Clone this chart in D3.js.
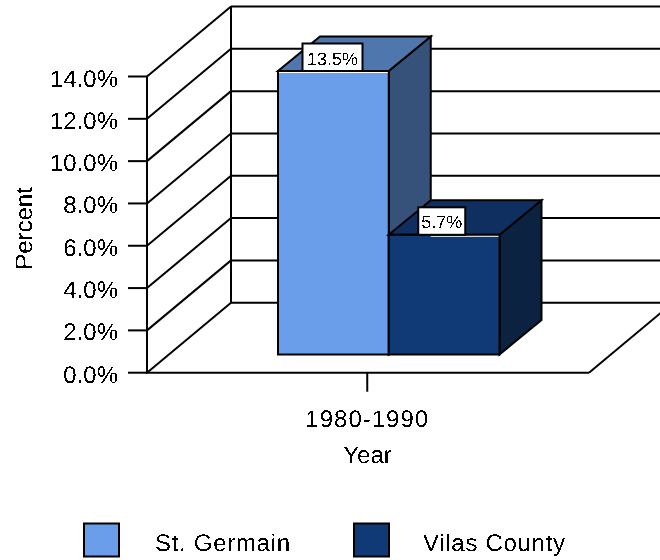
<!DOCTYPE html>
<html>
<head>
<meta charset="utf-8">
<script src="https://cdn.jsdelivr.net/npm/d3@7"></script>
<style>
html,body{margin:0;padding:0;background:#fff}
svg{display:block}
text{font-family:"Liberation Sans",Arial,sans-serif;fill:#000;text-rendering:geometricPrecision}
</style>
</head>
<body>
<svg id="c" width="660" height="560">
  <defs>
    <filter id="hard" x="-5%" y="-10%" width="110%" height="120%" color-interpolation-filters="sRGB">
      <feComponentTransfer><feFuncA type="discrete" tableValues="0 0 1 1"/></feComponentTransfer>
    </filter>
  </defs>
</svg>
<script>
const categories = ["1980-1990"];
const seriesNames = ["St. Germain", "Vilas County"];
const seriesValues = [13.5, 5.7];
const valueLabels = ["13.5%", "5.7%"];
const tickValues = [0, 2, 4, 6, 8, 10, 12, 14];
const tickLabels = ["0.0%", "2.0%", "4.0%", "6.0%", "8.0%", "10.0%", "12.0%", "14.0%"];
const frontColors = ["#6a9eea", "#0f3a75"];
const topColors = ["#4f77ae", "#0e2f5f"];
const sideColors = ["#36527a", "#0b2240"];

const svg = d3.select("#c");
const lw = 2;
const y = d3.scaleLinear().domain([0, 14]).range([372.7, 76.5]);
const xCat = d3.scaleBand().domain(categories).range([145.5, 589]);
const xBar = d3.scaleBand().domain(seriesNames).range([257, 478.5]);
const barY = d3.scaleLinear().domain([0, 14]).range([354.5, 60.5]);
const wallDx = 84, wallDy = -70, barDx = 42, barDy = -34.5, barShiftX = 21;

const walls = svg.append("g").attr("stroke", "#000").attr("stroke-width", lw).attr("fill", "none");
walls.selectAll(".back").data(tickValues).join("line")
  .attr("x1", 147 + wallDx).attr("x2", 660)
  .attr("y1", d => y(d) + wallDy).attr("y2", d => y(d) + wallDy);
walls.selectAll(".diag").data(tickValues).join("line")
  .attr("x1", 147).attr("x2", 147 + wallDx)
  .attr("y1", d => y(d)).attr("y2", d => y(d) + wallDy);
walls.append("line").attr("x1", 147 + wallDx).attr("x2", 147 + wallDx).attr("y1", y(14) + wallDy).attr("y2", y(0) + wallDy);
walls.append("line").attr("x1", 589).attr("x2", 589 + wallDx).attr("y1", y(0)).attr("y2", y(0) + wallDy);

// left axis
const axis = d3.axisLeft(y).tickValues(tickValues).tickFormat((d, i) => tickLabels[i]).tickSize(19).tickSizeOuter(0).tickPadding(10).offset(0);
const ag = svg.append("g").attr("transform", "translate(147,0)").call(axis);
ag.selectAll("line").attr("stroke", "#000").attr("stroke-width", lw);
ag.select(".domain").attr("stroke", "#000").attr("stroke-width", lw);
ag.selectAll("text").attr("font-size", 24).attr("font-family", '"Liberation Sans",Arial,sans-serif')
  .attr("dy", 10).attr("filter", "url(#hard)");

// bottom axis
const bottom = d3.axisBottom(xCat).tickSize(19).tickSizeOuter(0).offset(0);
const bg = svg.append("g").attr("transform", `translate(0,${y(0)})`).call(bottom);
bg.selectAll("line").attr("stroke", "#000").attr("stroke-width", lw);
bg.select(".domain").attr("stroke", "#000").attr("stroke-width", lw);
bg.selectAll("text").attr("font-size", 24).attr("font-family", '"Liberation Sans",Arial,sans-serif')
  .attr("y", 54.5).attr("dy", 0).attr("letter-spacing", "1").attr("filter", "url(#hard)");

// bars
const bars = svg.append("g").attr("stroke", "#000").attr("stroke-width", lw).attr("stroke-linejoin", "miter");
seriesNames.forEach((name, i) => {
  const v = seriesValues[i];
  const x0 = xBar(name) + barShiftX, x1 = x0 + xBar.bandwidth();
  const t = barY(v), b = barY(0);
  bars.append("path").attr("fill", sideColors[i])
    .attr("d", d3.line()([[x1, t], [x1 + barDx, t + barDy], [x1 + barDx, b + barDy], [x1, b]]) + "Z");
  bars.append("path").attr("fill", topColors[i])
    .attr("d", d3.line()([[x0, t], [x0 + barDx, t + barDy], [x1 + barDx, t + barDy], [x1, t]]) + "Z");
  bars.append("rect").attr("fill", frontColors[i])
    .attr("x", x0).attr("y", t).attr("width", x1 - x0).attr("height", b - t);
});
seriesNames.forEach((name, i) => {
  const x0 = xBar(name) + barShiftX, x1 = x0 + xBar.bandwidth();
  const t = barY(seriesValues[i]);
  svg.append("line").attr("stroke", "#fff").attr("stroke-width", 1)
    .attr("x1", i ? x0 + 42 : x0 + 1).attr("x2", x1 - 1).attr("y1", t + 1.5).attr("y2", t + 1.5);
});

// value labels
const labelW = [60, 47], labelOff = [24.5, 29.5];
seriesNames.forEach((name, i) => {
  const x0 = xBar(name) + barShiftX + labelOff[i];
  const t = barY(seriesValues[i]);
  svg.append("rect").attr("x", x0).attr("y", t - 27.5).attr("width", labelW[i]).attr("height", 27.5)
    .attr("fill", "#fff").attr("stroke", "#000").attr("stroke-width", lw);
  svg.append("text").attr("x", x0 + labelW[i] / 2).attr("y", t - 6.5).attr("text-anchor", "middle")
    .attr("font-size", 18).attr("filter", "url(#hard)").text(valueLabels[i]);
});

// axis titles
svg.append("text").attr("x", 367.5).attr("y", 463).attr("text-anchor", "middle").attr("font-size", 24).attr("filter", "url(#hard)").text("Year");
svg.append("text").attr("transform", "translate(32,228.5) rotate(-90)").attr("text-anchor", "middle").attr("font-size", 24).attr("filter", "url(#hard)").text("Percent");

// legend
const legendX = d3.scaleOrdinal().domain(seriesNames).range([84, 354]);
const legendTextX = d3.scaleOrdinal().domain(seriesNames).range([155, 423]);
seriesNames.forEach((name, i) => {
  svg.append("rect").attr("x", legendX(name)).attr("y", 523.5).attr("width", 35).attr("height", 33)
    .attr("fill", frontColors[i]).attr("stroke", "#000").attr("stroke-width", lw);
  svg.append("text").attr("x", legendTextX(name)).attr("y", 551).attr("font-size", 24).attr("letter-spacing", "0.7").attr("filter", "url(#hard)").text(name);
});
</script>
</body>
</html>
